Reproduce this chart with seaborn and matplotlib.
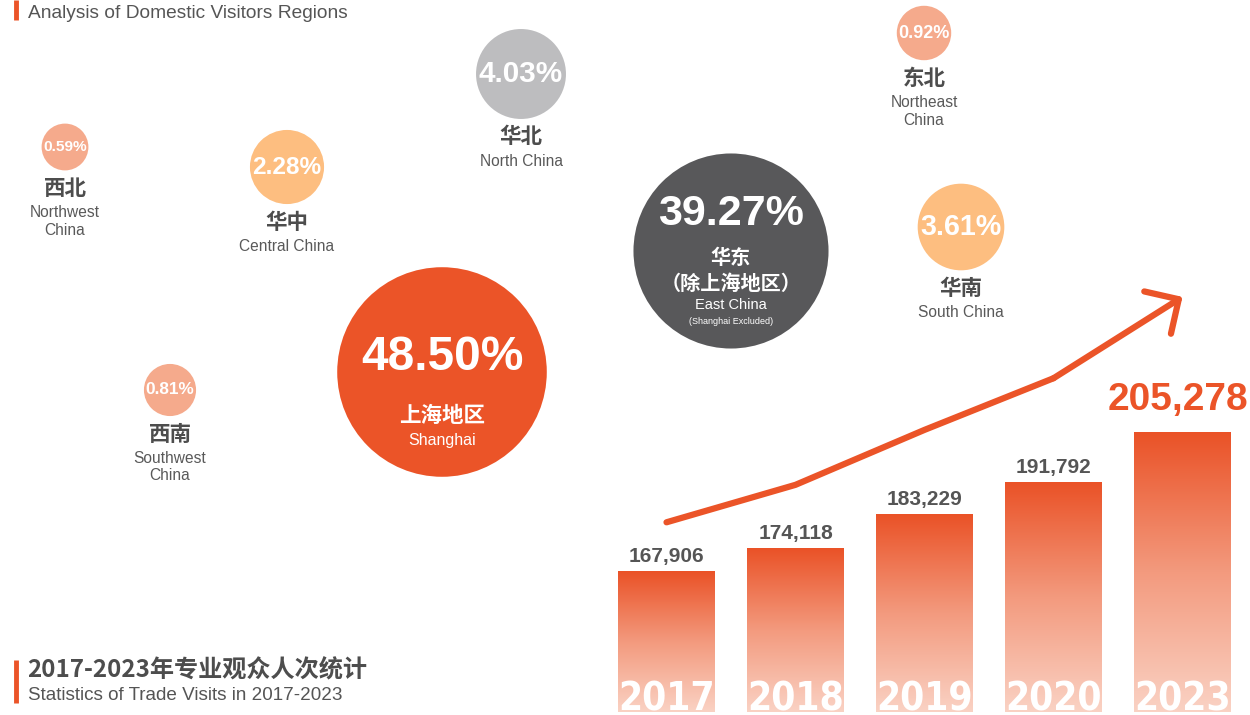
import numpy as np
import pandas as pd
import matplotlib
matplotlib.use("Agg")
import matplotlib.pyplot as plt
import seaborn as sns
from matplotlib import font_manager as fm
from matplotlib.colors import LinearSegmentedColormap

# ---- data ----
regions_cn = ['西北', '华中', '华北', '华东', '东北', '华南', '上海地区', '西南']
regions_en = ['Northwest\nChina', 'Central China', 'North China', 'East China',
              'Northeast\nChina', 'South China', 'Shanghai', 'Southwest\nChina']
share_pct = [0.59, 2.28, 4.03, 39.27, 0.92, 3.61, 48.50, 0.81]

years = ['2017', '2018', '2019', '2020', '2023']
visits = [167906, 174118, 183229, 191792, 205278]

# ---- layout / style (pixel space, figure is 1250 x 715) ----
bubble_xy = [(65, 147), (287, 167), (521, 74), (731, 251),
             (924, 33), (961, 227), (442, 372), (170, 390)]
bubble_colors = ['#F5AA8C', '#FDBE80', '#BDBDBF', '#58585A',
                 '#F5AA8C', '#FDBE80', '#EB5428', '#F5AA8C']
ORANGE = '#EB5428'
GREY = '#555555'

SANS = 'Liberation Sans'
CJK = ['Noto Sans CJK SC', 'DejaVu Sans']


def condensed_bold():
    """Look for a narrow/condensed bold face, else plain bold sans."""
    best = None
    for f in fm.fontManager.ttflist:
        narrow = ('Narrow' in f.name or 'Condensed' in f.name
                  or 'condensed' in str(f.stretch))
        if narrow and str(f.weight) in ('bold', '700', 'heavy', 'black', '800', '900'):
            best = f
            break
    if best is not None:
        return fm.FontProperties(fname=best.fname)
    return fm.FontProperties(family=SANS, weight='bold')


sns.set_theme(style='white')
plt.rcParams['font.family'] = [SANS, 'Noto Sans CJK SC', 'DejaVu Sans']

fig = plt.figure(figsize=(12.5, 7.15), dpi=100)

# ---- bubble layer: full-figure axes in pixel units ----
bx = fig.add_axes([0, 0, 1, 1])


def radius(v):
    # bubble radius in px, compressed so the tiny shares stay visible
    return 28 * v ** 0.34


bubbles = pd.DataFrame({
    'region': regions_cn,
    'x': [p[0] for p in bubble_xy],
    'y': [p[1] for p in bubble_xy],
    'pct': share_pct,
})
sizes = [(1.44 * radius(v)) ** 2 for v in share_pct]
sns.scatterplot(data=bubbles, x='x', y='y', hue='region',
                palette=dict(zip(regions_cn, bubble_colors)),
                s=sizes, linewidth=0, legend=False, ax=bx, zorder=2)
bx.set_xlim(0, 1250)
bx.set_ylim(715, 0)
bx.axis('off')

inside = {'上海地区', '华东'}
for (x, y), cn, en, v in zip(bubble_xy, regions_cn, regions_en, share_pct):
    if cn in inside:
        continue
    r = radius(v)
    bx.text(x, y, f'{v:.2f}%', ha='center', va='center', color='white',
            fontsize=0.66 * r * 0.72, weight='bold', family=SANS, zorder=3)
    bx.text(x, y + r + 18, cn, ha='center', va='center', color='#4D4D4D',
            fontsize=15.5, weight='bold', family=CJK)
    bx.text(x, y + r + 35, en, ha='center', va='top', color='#595959',
            fontsize=11.2, family=SANS, linespacing=1.2)

# Shanghai bubble
x, y = bubble_xy[6]
bx.text(x, y - 15, f'{share_pct[6]:.2f}%', ha='center', va='center', color='white',
        fontsize=34.5, weight='bold', family=SANS, zorder=3)
bx.text(x, y + 43, regions_cn[6], ha='center', va='center', color='white',
        fontsize=15.5, weight='bold', family=CJK, zorder=3)
bx.text(x, y + 68, regions_en[6], ha='center', va='center', color='white',
        fontsize=11.5, family=SANS, zorder=3)

# East China bubble
x, y = bubble_xy[3]
bx.text(x, y - 37, f'{share_pct[3]:.2f}%', ha='center', va='center', color='white',
        fontsize=31, weight='bold', family=SANS, zorder=3)
bx.text(x, y + 6, regions_cn[3], ha='center', va='center', color='white',
        fontsize=14.5, weight='bold', family=CJK, zorder=3)
bx.text(x, y + 32, '（除上海地区）', ha='center', va='center', color='white',
        fontsize=14.5, weight='bold', family=CJK, zorder=3)
bx.text(x, y + 54, regions_en[3], ha='center', va='center', color='white',
        fontsize=10.5, family=SANS, zorder=3)
bx.text(x, y + 70, '(Shanghai Excluded)', ha='center', va='center', color='white',
        fontsize=6.5, family=SANS, zorder=3)

# titles
bx.plot([16, 16], [0, 20], color=ORANGE, lw=3.5, solid_capstyle='butt')
bx.text(28, 13, 'Analysis of Domestic Visitors Regions', ha='left', va='center',
        color=GREY, fontsize=13.8, family=SANS)
bx.plot([16, 16], [660, 703], color=ORANGE, lw=3.5, solid_capstyle='butt')
bx.text(27, 670, '2017-2023年专业观众人次统计', ha='left', va='center',
        color='#4D4D4D', fontsize=17.4, weight='bold', family=CJK)
bx.text(28, 696, 'Statistics of Trade Visits in 2017-2023', ha='left', va='center',
        color=GREY, fontsize=13.6, family=SANS)

# ---- bar chart ----
ax = fig.add_axes([602 / 1250, 3 / 715, 645 / 1250, 460 / 715])
ax.patch.set_alpha(0)
bar_lo, bar_hi = 130036, 253760
sns.barplot(x=years, y=visits, ax=ax, width=0.75, color=ORANGE, saturation=1)

grad = LinearSegmentedColormap.from_list('bar', ['#FAD2C4', '#F39A7E', '#EA5227'])
g = np.linspace(0, 1, 256).reshape(-1, 1)
for p in ax.patches:
    x0, w, h = p.get_x(), p.get_width(), p.get_height()
    p.set_facecolor('none')
    p.set_edgecolor('none')
    im = ax.imshow(g, cmap=grad, origin='lower', aspect='auto',
                   extent=[x0, x0 + w, bar_lo, h], zorder=1)
    im.set_clip_path(p)

ax.set_xlim(-0.5, len(years) - 0.5)
ax.set_ylim(bar_lo, bar_hi)
ax.axis('off')

year_fp = condensed_bold()
year_texts = []
for i, (yr, v) in enumerate(zip(years, visits)):
    t = ax.annotate(yr, (i, bar_lo), xytext=(0, 1), textcoords='offset points',
                    ha='center', va='baseline', color='white',
                    fontproperties=year_fp, fontsize=38, zorder=3,
                    annotation_clip=False)
    t.set_clip_on(True)
    year_texts.append(t)
    if i < len(years) - 1:
        ax.annotate(f'{v:,}', (i, v), xytext=(0, 4), textcoords='offset points',
                    ha='center', va='bottom', color=GREY, fontsize=15,
                    weight='bold', family=SANS)
    else:
        ax.annotate(f'{v:,}', (i, v), xytext=(-3, 10), textcoords='offset points',
                    ha='center', va='bottom', color=ORANGE, fontsize=28,
                    weight='bold', family=SANS)

# shrink the year labels so they just fill the bar width
fig.canvas.draw()
renderer = fig.canvas.get_renderer()
bar_px = ax.patches[0].get_window_extent(renderer).width
for t in year_texts:
    tw = t.get_window_extent(renderer).width
    t.set_fontsize(t.get_fontsize() * bar_px / tw)

# trend arrow on its own scale
ax2 = ax.twinx()
sns.lineplot(x=np.arange(len(years) - 1), y=visits[:-1], ax=ax2, color=ORANGE,
             lw=4.5, solid_capstyle='round', solid_joinstyle='miter')
ax2.annotate('', xy=(len(years) - 1, visits[-1]), xytext=(len(years) - 2, visits[-2]),
             arrowprops=dict(arrowstyle='->,head_length=0.9,head_width=0.9',
                             mutation_scale=20, lw=4.5, color=ORANGE,
                             shrinkA=0, shrinkB=0, capstyle='round'))
ax2.set_ylim(136451, 212724)
ax2.set_xlim(-0.5, len(years) - 0.5)
ax2.axis('off')

fig.savefig('out.png', dpi=100)
